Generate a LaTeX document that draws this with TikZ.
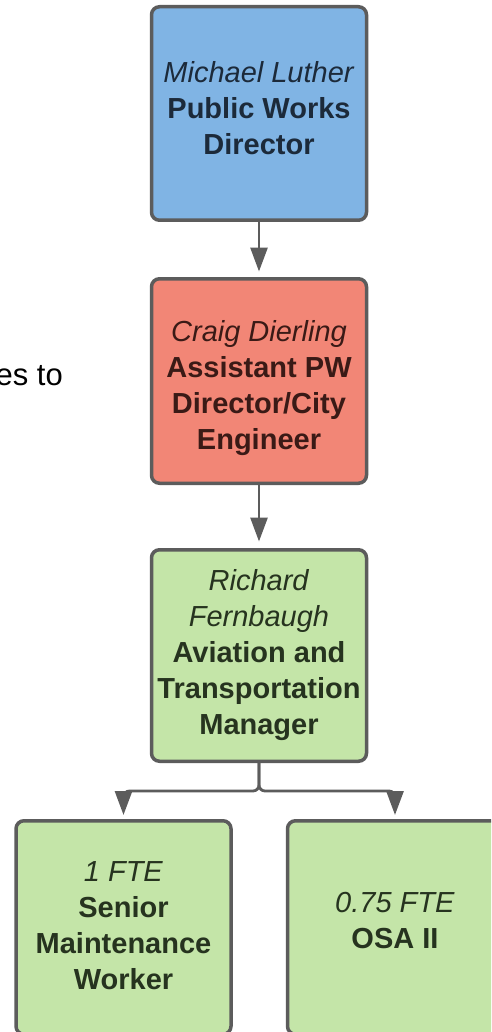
\documentclass[tikz,border=0pt]{standalone}
\usepackage{fontspec}
\setmainfont{Liberation Sans}
\usetikzlibrary{arrows.meta}
\definecolor{bluefill}{HTML}{80B4E4}
\definecolor{redfill}{HTML}{F28676}
\definecolor{greenfill}{HTML}{C4E5A8}
\definecolor{edgegray}{HTML}{5C5C5C}
\definecolor{bluetext}{HTML}{1C2A3A}
\definecolor{redtext}{HTML}{3A1A16}
\definecolor{greentext}{HTML}{26331F}
\tikzset{
  box/.style={draw=edgegray, line width=3.5pt, rounded corners=8pt, minimum width=215pt, inner sep=0pt},
  lbl/.style={align=center, font=\fontsize{29}{36}\selectfont, inner sep=0pt},
  conn/.style={draw=edgegray, line width=2.8pt, -{Triangle[length=24pt,width=17pt]}},
}
\begin{document}
\begin{tikzpicture}[x=1pt,y=-1pt]
\useasboundingbox (0,0) rectangle (491,1032);
\clip (0,0) rectangle (491,1032);
\fill[white] (0,0) rectangle (491,1032);

\node[box, fill=bluefill, minimum height=213.5pt] (b1) at (259,113.5) {};
\node[box, fill=redfill, minimum height=204.5pt] (b2) at (259,381) {};
\node[box, fill=greenfill, minimum height=211.5pt] (b3) at (259,655.5) {};
\node[box, fill=greenfill, minimum height=213.5pt] (b4) at (123.5,927.5) {};
\node[box, fill=greenfill, minimum height=213.5pt] (b5) at (395,927.5) {};

\node[lbl, text=bluetext] (t1) at (259,108.5) {\textit{Michael Luther}\\\textbf{Public Works}\\\textbf{Director}};
\node[lbl, text=redtext] (t2) at (259,388) {\textit{Craig Dierling}\\\textbf{Assistant PW}\\\textbf{Director/City}\\\textbf{Engineer}};
\node[lbl, text=greentext] (t3) at (259,655.5) {\textit{Richard}\\\textit{Fernbaugh}\\\textbf{Aviation and}\\\textbf{Transportation}\\\textbf{Manager}};
\node[lbl, text=greentext] (t4) at (123.5,926) {\textit{1 FTE}\\\textbf{Senior}\\\textbf{Maintenance}\\\textbf{Worker}};
\node[lbl, text=greentext] (t5) at (395,920.5) {\textit{0.75 FTE}\\\textbf{OSA II}};

\node[anchor=base east, font=\fontsize{31}{36}\selectfont, inner sep=0pt] (side) at (63,385) {es to};

\draw[conn, shorten >=5.5pt] (b1.south) -- (b2.north);
\draw[conn, shorten >=6.5pt] (b2.south) -- (b3.north);
\draw[conn, shorten >=4pt, rounded corners=6pt] (b3.south) -- ++(0,28) -| (b4.north);
\draw[conn, shorten >=4pt, rounded corners=6pt] (b3.south) -- ++(0,28) -| (b5.north);
\end{tikzpicture}
\end{document}
